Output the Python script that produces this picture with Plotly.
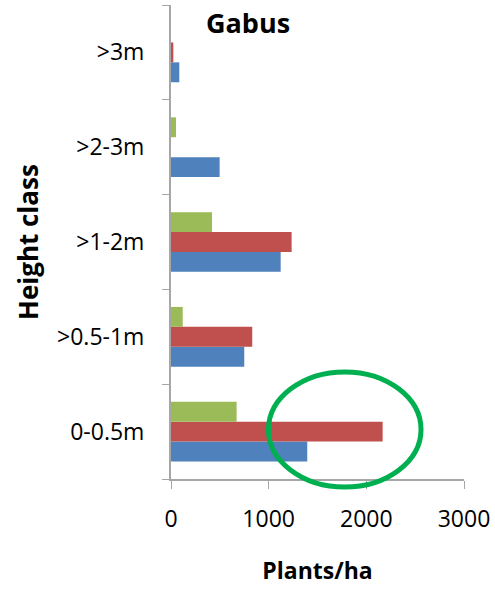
import plotly.graph_objects as go

categories = ["0-0.5m", ">0.5-1m", ">1-2m", ">2-3m", ">3m"]
series_blue = [1395, 750, 1123, 498, 85]
series_red = [2167, 832, 1235, 0, 24]
series_green = [672, 120, 420, 51, 0]
x_ticks = [0, 1000, 2000, 3000]

FONT = "Open Sans"
W, H = 495, 590
L, R, T, B = 171, 31, 5, 111
PW, PH = W - L - R, H - T - B

def px_to_paper(xp, yp):
    return (xp - L) / PW, 1 - (yp - T) / PH

fig = go.Figure()
for vals, col in [(series_blue, "#4F81BD"), (series_red, "#C0504D"), (series_green, "#9BBB59")]:
    fig.add_trace(go.Bar(y=categories, x=vals, orientation="h",
                         marker=dict(color=col, line=dict(width=0))))

gx, gy = px_to_paper(248, 22)
hx, hy = px_to_paper(28, 242)
fig.update_layout(
    width=W, height=H, barmode="group", bargap=0.37, bargroupgap=0,
    showlegend=False, plot_bgcolor="white", paper_bgcolor="white",
    margin=dict(l=L, r=R, t=T, b=B),
    font=dict(family=FONT, size=23, color="black"),
    xaxis=dict(range=[0, 3000], tickvals=x_ticks, showgrid=False,
               showline=True, linecolor="#A6A6A6", linewidth=2,
               ticks="outside", ticklen=8, tickcolor="#A6A6A6", tickwidth=1,
               ticklabelstandoff=10, zeroline=False,
               title=dict(text="<b>Plants/ha</b>", standoff=30, font=dict(size=23))),
    yaxis=dict(categoryorder="array", categoryarray=categories, showgrid=False,
               range=[-0.5, 4.5], autorange=False,
               showline=True, linecolor="#A6A6A6", linewidth=2,
               ticks="outside", ticklen=7, tickcolor="#A6A6A6", tickwidth=1,
               tickson="boundaries", ticklabelstandoff=20),
    annotations=[
        dict(text="<b>Gabus</b>", xref="paper", yref="paper", x=gx, y=gy,
             xanchor="center", yanchor="middle", showarrow=False, font=dict(size=27)),
        dict(text="<b>Height class</b>", xref="paper", yref="paper", x=hx, y=hy,
             xanchor="center", yanchor="middle", textangle=-90, showarrow=False,
             font=dict(size=26)),
    ],
)
fig.add_shape(type="circle", xref="x", yref="paper", x0=998, x1=2560,
              y0=-0.017, y1=0.226,
              line=dict(color="#00B050", width=5), layer="above")
fig.write_html("out.html")
